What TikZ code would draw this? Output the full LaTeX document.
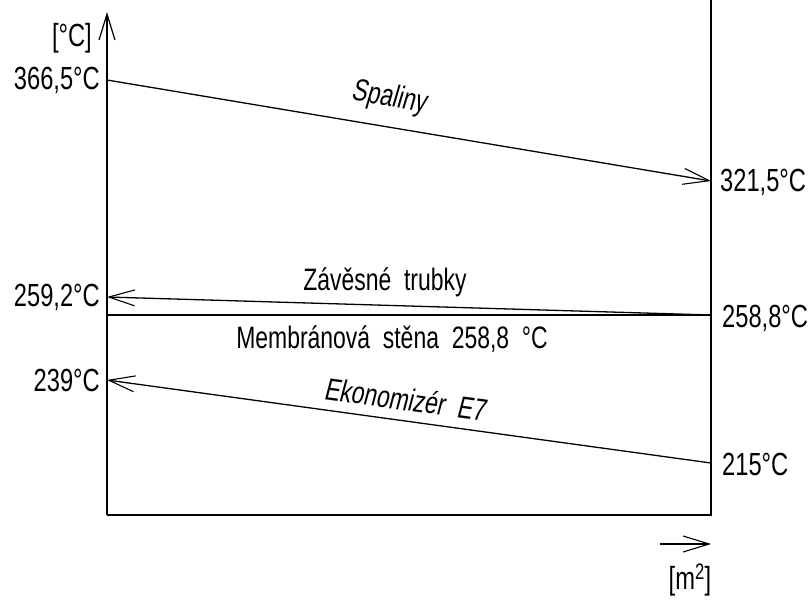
\documentclass[tikz,border=0pt]{standalone}
\usepackage{fontspec}
\setmainfont{Liberation Sans}[FakeStretch=0.74]
\newfontfamily\slfont{Liberation Sans}[FakeStretch=0.74, FakeSlant=0.12]
\usetikzlibrary{arrows.meta}
\tikzset{
	temp/.style={font=\fontsize{32}{36}\selectfont, inner sep=0pt},
	lbl/.style={font=\fontsize{31}{36}\selectfont, inner sep=0pt},
	slbl/.style={font=\fontsize{31}{36}\selectfont\slfont, inner sep=0pt},
	flow/.style={line width=1.3pt, -{Straight Barb[length=26pt, width=16pt, line width=1.1pt]}},
}
\begin{document}
\begin{tikzpicture}[x=1pt, y=-1pt]
	\useasboundingbox (0,0) rectangle (811,600);
	% axes
	\coordinate (o) at (107,515);
	\coordinate (top) at (107,12);
	\coordinate (r) at (711,515);
	\coordinate (rt) at (711,0);
	\draw[line width=1.6pt, -{Straight Barb[length=26pt, width=16pt, line width=1.2pt]}] (o) -- (top);
	\draw[line width=1.6pt] (o) -- (r) -- (rt);
	\node[temp, anchor=east] (degc) at (92,38) {[°C]};
	% flue gas
	\coordinate (a) at (107,80);
	\coordinate (b) at (711,181);
	\draw[flow] (a) -- (b);
	\node[temp, anchor=east] (ta) at (100,80) {366,5°C};
	\node[temp, anchor=west] (tb) at (720,182) {321,5°C};
	\node[slbl, rotate=-9.5] (sp) at (389,98) {Spaliny};
	% hanging tubes and wall
	\coordinate (c) at (711,315);
	\coordinate (d) at (107,297);
	\coordinate (e) at (107,315);
	\draw[flow] (c) -- (d);
	\draw[line width=1.3pt] (e) -- (c);
	\node[temp, anchor=east] (td) at (100,297) {259,2°C};
	\node[temp, anchor=west] (tc) at (722,318) {258,8°C};
	\node[lbl] (zt) at (385,282) {Závěsné\ \ trubky};
	\node[lbl] (ms) at (392,339) {Membránová\ \ stěna\ \ 258,8\ \ °C};
	% economiser
	\coordinate (f) at (711,463);
	\coordinate (g) at (107,380);
	\draw[flow] (f) -- (g);
	\node[temp, anchor=east] (tg) at (100,380) {239°C};
	\node[temp, anchor=west] (tf) at (722,464) {215°C};
	\node[slbl, rotate=-7.8] (ek) at (405,399) {Ekonomizér\ \ E7};
	% area axis
	\coordinate (h) at (660,544);
	\coordinate (k) at (711,544);
	\draw[line width=1.3pt, -{Straight Barb[length=26pt, width=16pt, line width=1.1pt]}] (h) -- (k);
	\node[temp] (m2) at (690,580) {[m\textsuperscript{2}]};
\end{tikzpicture}
\end{document}
